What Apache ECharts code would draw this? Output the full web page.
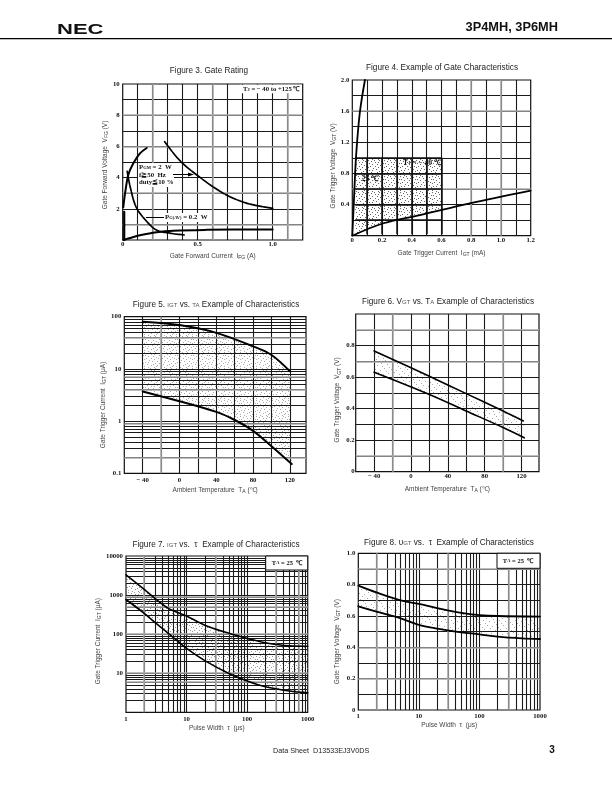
<!DOCTYPE html>
<html><head><meta charset="utf-8">
<style>html,body{margin:0;padding:0;background:#fff}#c{width:612px;height:792px}</style>
<script src="https://cdn.jsdelivr.net/npm/echarts@6/dist/echarts.min.js"></script>
</head><body><div id="c"></div>
<script>
// ---------- values ----------
const fig3Forward = [[0.004,2.1],[0.016,3],[0.038,4.2],[0.07,4.9],[0.115,5.55],[0.16,5.9]];
const fig3Vertical = [[0.01,0],[0.01,1.8]];
const fig3Lower = [[0.005,0],[0.05,0.13],[0.115,0.3],[0.225,0.5],[0.34,0.6],[0.56,0.65],[1.0,0.68]];
const fig3Pav = [[0.03,4.4],[0.05,3.4],[0.09,2.1],[0.15,1.3],[0.225,0.64],[0.32,0.43],[0.41,0.32]];
const fig3Pgm = [[0.28,6.3],[0.38,5.1],[0.49,4.2],[0.67,3.0],[0.83,2.35],[1.0,2.03]];

const fig4Left = [[0,0],[0.013,0.54],[0.025,1.01],[0.05,1.57],[0.085,2.0]];
const fig4Bottom = [[0,0],[0.21,0.16],[0.455,0.265],[0.79,0.415],[1.2,0.58]];
const fig4Stipple = [[0.02,1.0],[0.6,1.0],[0.6,0.34],[0.455,0.265],[0.21,0.16],[0.02,0.02]];

const fig5Upper = [[-40,80],[0,69],[40,49],[80,27],[100,18.5],[120,9]];
const fig5Lower = [[-40,3.7],[0,2.4],[40,1.5],[60,1.05],[80,0.65],[100,0.33],[122,0.15]];

const fig6Upper = [[-40,0.766],[20,0.605],[60,0.495],[100,0.385],[122,0.322]];
const fig6Lower = [[-40,0.631],[20,0.49],[60,0.385],[100,0.28],[123,0.215]];

const fig7Upper = [[1,3300],[2,1400],[3,820],[5,457],[10,290],[20,170],[50,105],[100,78],[200,60],[500,50],[1000,49]];
const fig7Lower = [[1,770],[2,340],[3,200],[5,105],[10,43],[20,21],[50,9.8],[100,6.3],[200,4.5],[500,3.5],[1000,3.15]];

const fig8Upper = [[1,0.794],[2,0.75],[5,0.70],[10,0.677],[20,0.65],[50,0.62],[100,0.606],[200,0.6],[1000,0.596]];
const fig8Lower = [[1,0.662],[2,0.628],[5,0.585],[10,0.543],[20,0.52],[50,0.496],[100,0.483],[200,0.468],[500,0.457],[1000,0.453]];

// tick labels
const fig3XTicks = [0,0.5,1.0], fig3XLabels = ['0','0.5','1.0'];
const fig3YTicks = [2,4,6,8,10], fig3YLabels = ['2','4','6','8','10'];
const fig4XTicks = [0,0.2,0.4,0.6,0.8,1.0,1.2], fig4XLabels = ['0','0.2','0.4','0.6','0.8','1.0','1.2'];
const fig4YTicks = [0.4,0.8,1.2,1.6,2.0], fig4YLabels = ['0.4','0.8','1.2','1.6','2.0'];
const tempTicks = [-40,0,40,80,120], tempLabels = ['\u2212 40','0','40','80','120'];
const fig5YTicks = [0.1,1,10,100], fig5YLabels = ['0.1','1','10','100'];
const fig6YTicks = [0,0.2,0.4,0.6,0.8], fig6YLabels = ['0','0.2','0.4','0.6','0.8'];
const widthTicks = [1,10,100,1000], widthLabels = ['1','10','100','1000'];
const fig7YTicks = [10,100,1000,10000], fig7YLabels = ['10','100','1000','10000'];
const fig8YTicks = [0,0.2,0.4,0.6,0.8,1.0], fig8YLabels = ['0','0.2','0.4','0.6','0.8','1.0'];

// grid line positions
const fig3XGrid = [0.1,0.2,0.3,0.4,0.5,0.6,0.7,0.8,0.9,1.0,1.1];
const fig3YGrid = [1,2,3,4,5,6,7,8,9];
const fig4XGrid = [0.1,0.2,0.3,0.4,0.5,0.6,0.7,0.8,0.9,1.0,1.1];
const fig4YGrid = [0.2,0.4,0.6,0.8,1.0,1.2,1.4,1.6,1.8];
const tempGrid = [-40,-20,0,20,40,60,80,100,120];
const fig5YGrid = [0.2,0.3,0.4,0.5,0.6,0.7,0.8,0.9,1,2,3,4,5,6,7,8,9,10,20,30,40,50,60,70,80,90];
const fig6YGrid = [0.1,0.2,0.3,0.4,0.5,0.6,0.7,0.8,0.9];
const widthGrid = [2,3,4,5,6,7,8,9,10,20,30,40,50,60,70,80,90,100,200,300,400,500,600,700,800,900];
const fig7YGrid = [2,3,4,5,6,7,8,9,10,20,30,40,50,60,70,80,90,100,200,300,400,500,600,700,800,900,1000,2000,3000,4000,5000,6000,7000,8000,9000];
const fig8YGrid = [0.1,0.2,0.3,0.4,0.5,0.6,0.7,0.8,0.9];

// scanned-in grey, thicker rules
const fig3XGrey = [0.2,0.6,1.1], fig3YGrey = [1,3,6,8];
const fig4XGrey = [0.8,1.0], fig4YGrey = [1.6,0.6];
const fig5XGrey = [-20], fig5YGrey = [0.2,0.9,4,7,40];
const fig6XGrey = [-20,100], fig6YGrey = [0.9,0.1,0.7];
const fig7XGrey = [2,30,300,700], fig7YGrey = [6,10,100,900,500];
const fig8XGrey = [2,30,300], fig8YGrey = [0.4,0.9,0.2];

// inset grid of figure 4
const fig4InsetX = [0.1,0.2,0.3,0.4,0.5,0.6];
const fig4InsetY = [0.2,0.4,0.6,0.8,1.0];

// dither cell for the stipple fills
const stippleCell = [
 '1000001000010000','0001000000000100','0000000100100000','0100000000000001',
 '0000100001000000','0000000000001000','0010000100000010','1000000000100000',
 '0000010000000000','0000000010000100','0100100000000000','0000000000010001',
 '0001000001000000','0000000100000100','1000000000001000','0000100000100000'];
const stippleCellFaint = [
 '1000000000000000','0000000100000000','0000000000001000','0010000000000000',
 '0000000000100000','0000100000000000','0000000000000001','0000000010000000',
 '0100000000000000','0000000000010000','0000001000000000','0000000000000100',
 '0001000000000000','0000000001000000','0000000000000010','0000010000000000'];

// ---------- layout ----------
const layouts = [
 {l:122.7,r:302.7,t:84,b:240},
 {l:352.3,r:530.7,t:80,b:235.7},
 {l:124.3,r:306,t:316.7,b:473.3},
 {l:355.7,r:539,t:314,b:471.7},
 {l:126,r:307.7,t:556,b:712.3},
 {l:358.3,r:540,t:553.3,b:710}
];
const SANS = 'Liberation Sans', SERIF = 'Liberation Serif';
const sansSub = {fontFamily:SANS,fontSize:5,verticalAlign:'bottom',color:'#333',padding:[3,0,0,0]};

function mapFmt(ticks, labels){return v=>{for(let i=0;i<ticks.length;i++){if(Math.abs(ticks[i]-v)<1e-6*Math.max(1,Math.abs(v)))return labels[i];}return '';};}
function axisBase(type,min,max,ticks,labels,name,gap,idx,margin,shift){
  return {type,min,max,gridIndex:idx,logBase:10,
    name,nameLocation:'middle',nameGap:gap,
    nameTextStyle:{fontFamily:SANS,fontSize:6.5,color:'#444',padding:shift?[0,shift*2,0,0]:0,rich:{s:sansSub,t:{fontFamily:SANS,fontSize:6.5,color:'#444'}}},
    axisLine:{show:false},axisTick:{show:false},splitLine:{show:false},minorTick:{show:false},minorSplitLine:{show:false},
    axisLabel:{show:true,showMinLabel:true,showMaxLabel:true,hideOverlap:false,customValues:ticks,formatter:mapFmt(ticks,labels),margin,
      fontFamily:SERIF,fontWeight:'bold',fontSize:6.8,color:'#111'}
  };
}
const xAxes = [
 axisBase('value',0,1.2,fig3XTicks,fig3XLabels,'{t|Gate Forward Current  I}{s|FG}{t| (A)}',12.5,0,1),
 axisBase('value',0,1.2,fig4XTicks,fig4XLabels,'{t|Gate Trigger Current  I}{s|GT}{t| (mA)}',13.5,1,1),
 axisBase('value',-60,137.5,tempTicks,tempLabels,'{t|Ambient Temperature  T}{s|A}{t| (\u2103)}',12.5,2,3),
 axisBase('value',-60,139,tempTicks,tempLabels,'{t|Ambient Temperature  T}{s|A}{t| (\u2103)}',13.5,3,1),
 axisBase('log',1,1000,widthTicks,widthLabels,'{t|Pulse Width  \u03C4  (\u03BCs)}',12,4,3),
 axisBase('log',1,1000,widthTicks,widthLabels,'{t|Pulse Width  \u03C4  (\u03BCs)}',12,5,3)
];
const yAxes = [
 axisBase('value',0,10,fig3YTicks,fig3YLabels,'{t|Gate Forward Voltage  V}{s|FG}{t| (V)}',10,0,3,3),
 axisBase('value',0,2.0,fig4YTicks,fig4YLabels,'{t|Gate Trigger Voltage  V}{s|GT}{t| (V)}',14,1,3,8),
 axisBase('log',0.1,100,fig5YTicks,fig5YLabels,'{t|Gate Trigger Current  I}{s|GT}{t| (\u03BCA)}',14,2,3,10),
 axisBase('value',0,1.0,fig6YTicks,fig6YLabels,'{t|Gate Trigger Voltage  V}{s|GT}{t| (V)}',14,3,1,7),
 axisBase('log',1,10000,fig7YTicks,fig7YLabels,'{t|Gate Trigger Current  I}{s|GT}{t| (\u03BCA)}',19,4,3,7),
 axisBase('value',0,1.0,fig8YTicks,fig8YLabels,'{t|Gate Trigger Voltage  V}{s|GT}{t| (V)}',17,5,3,10)
];
const grids = layouts.map(g=>({left:g.l,top:g.t,width:g.r-g.l,height:g.b-g.t,show:true,borderColor:'#111',borderWidth:1.2,backgroundColor:'rgba(0,0,0,0)'}));

const series = [];
function rules(idx,xs,ys,color,width,z,opacity){
  series.push({type:'line',xAxisIndex:idx,yAxisIndex:idx,data:[],silent:true,animation:false,z,
    markLine:{silent:true,symbol:'none',animation:false,label:{show:false},z,
      lineStyle:{color,width,type:'solid',opacity:opacity==null?1:opacity},
      data:xs.map(v=>({xAxis:v})).concat(ys.map(v=>({yAxis:v})))}});
}
function curve(idx,data,width,dash){
  series.push({type:'line',xAxisIndex:idx,yAxisIndex:idx,data,smooth:0.35,showSymbol:false,symbol:'none',silent:true,animation:false,z:6,
    clip:true,lineStyle:{color:'#000',width,type:dash||'solid',cap:'round'}});
}
function pattern(cell,color){
  const c=document.createElement('canvas');c.width=c.height=cell.length;const x=c.getContext('2d');x.fillStyle=color;
  cell.forEach((row,j)=>{[...row].forEach((b,i)=>{if(b==='1')x.fillRect(i,j,1,1);});});
  return c;
}
function stipple(idx,points,cell,color){
  series.push({type:'custom',xAxisIndex:idx,yAxisIndex:idx,silent:true,animation:false,z:1,data:[0],
    renderItem(params,api){
      return {type:'polygon',shape:{points:points.map(p=>api.coord(p))},
        style:{fill:{image:pattern(cell,color),repeat:'repeat'}}};
    }});
}
function between(a,b){return a.concat(b.slice().reverse());}

const BLK='#1a1a1a', GREY='#a8a8a8';
const figs=[
 [fig3XGrid,fig3YGrid,fig3XGrey,fig3YGrey],[fig4XGrid,fig4YGrid,fig4XGrey,fig4YGrey],
 [tempGrid,fig5YGrid,fig5XGrey,fig5YGrey],[tempGrid,fig6YGrid,fig6XGrey,fig6YGrey],
 [widthGrid,fig7YGrid,fig7XGrey,fig7YGrey],[widthGrid,fig8YGrid,fig8XGrey,fig8YGrey]
];
figs.forEach((f,i)=>{rules(i,f[0],f[1],BLK,1.1,2);rules(i,f[2],f[3],GREY,1.6,3);});

stipple(1,fig4Stipple,stippleCell,'#666');
stipple(2,between(fig5Upper,fig5Lower),stippleCell,'#aaa');
stipple(3,between(fig6Upper,fig6Lower),stippleCellFaint,'#aaa');
stipple(4,between(fig7Upper,fig7Lower),stippleCell,'#999');
stipple(5,between(fig8Upper,fig8Lower),stippleCellFaint,'#aaa');

// heavier inset rules of figure 4 (only inside its box)
const insetLines=[];
fig4InsetX.forEach(v=>insetLines.push([{coord:[v,0.02]},{coord:[v,1.0]}]));
fig4InsetY.forEach(v=>insetLines.push([{coord:[0.02,v]},{coord:[0.6,v]}]));
series.push({type:'line',xAxisIndex:1,yAxisIndex:1,data:[],silent:true,animation:false,z:5,
  markLine:{silent:true,symbol:'none',animation:false,label:{show:false},lineStyle:{color:'#111',width:1.5,type:'solid'},data:insetLines}});

curve(0,fig3Forward,2);curve(0,fig3Vertical,2.2);curve(0,fig3Lower,2);curve(0,fig3Pav,1.7,[6,1]);curve(0,fig3Pgm,1.7,[12,1.5]);
curve(1,fig4Left,1.8);curve(1,fig4Bottom,1.8);
curve(2,fig5Upper,2);curve(2,fig5Lower,2);
curve(3,fig6Upper,1.6);curve(3,fig6Lower,1.6);
curve(4,fig7Upper,1.6);curve(4,fig7Lower,1.6);
curve(5,fig8Upper,1.8);curve(5,fig8Lower,1.8);

// ---------- titles, header, notes ----------
function figTitle(x,y,text){
  return {left:x,top:y,textAlign:'center',textVerticalAlign:'middle',padding:0,text,
    textStyle:{fontFamily:SANS,fontSize:8.2,fontWeight:'normal',color:'#222',
      rich:{t:{fontFamily:SANS,fontSize:8.2,color:'#222'},s:{fontFamily:SANS,fontSize:6,color:'#555'}}}};
}
const titles=[
 figTitle(209,71,'{t|Figure 3. Gate Rating}'),
 figTitle(442,68,'{t|Figure 4. Example of Gate Characteristics}'),
 figTitle(216,305,'{t|Figure 5. }{s|IGT}{t| vs. }{s|TA}{t| Example of Characteristics}'),
 figTitle(448,302,'{t|Figure 6. V}{s|GT}{t| vs. T}{s|A}{t| Example of Characteristics}'),
 figTitle(216,545,'{t|Figure 7. }{s|IGT}{t| vs.  \u03C4  Example of Characteristics}'),
 figTitle(449,543,'{t|Figure 8. \u03C5}{s|GT}{t| vs.  \u03C4  Example of Characteristics}')
];
function note(x,y,text,size,align){
  return {type:'text',z:30,x,y,style:{text,fill:'#111',font:'bold '+(size||6.5)+'px "'+SERIF+'"',textAlign:align||'left',textVerticalAlign:'middle',
    rich:{n:{fontFamily:SERIF,fontWeight:'bold',fontSize:size||6.5,fill:'#111',color:'#111'},s:{fontFamily:SERIF,fontWeight:'bold',fontSize:4.5,color:'#111'}}}};
}
function box(x,y,w,h,line){return {type:'rect',z:20,shape:{x,y,width:w,height:h},style:{fill:'#fff',stroke:line||null,lineWidth:1}};}
function seg(x1,y1,x2,y2){return {type:'line',z:20,shape:{x1,y1,x2,y2},style:{stroke:'#000',lineWidth:1}};}
function head(x,y){return {type:'polygon',z:21,shape:{points:[[x,y],[x-6,y-2],[x-6,y+2]]},style:{fill:'#000'}};}
const graphic=[
 {type:'rect',z:10,shape:{x:0,y:38,width:612,height:1.2},style:{fill:'#000'}},
 {type:'text',z:10,x:57,y:29.5,scaleX:1.42,style:{text:'NEC',font:'bold 15.5px "'+SANS+'"',fill:'#111',textVerticalAlign:'middle'}},
 {type:'text',z:10,x:558,y:27.5,style:{text:'3P4MH, 3P6MH',font:'bold 12.8px "'+SANS+'"',fill:'#111',textAlign:'right',textVerticalAlign:'middle'}},
 {type:'text',z:10,x:273,y:751,style:{text:'Data Sheet  D13533EJ3V0DS',font:'7.2px "'+SANS+'"',fill:'#222',textVerticalAlign:'middle'}},
 {type:'text',z:10,x:552,y:750,style:{text:'3',font:'bold 10px "'+SANS+'"',fill:'#111',textAlign:'center',textVerticalAlign:'middle'}},
 // figure 3
 box(240,84.8,62,8.5),
 note(243,89.5,'{n|T}{s|J}{n| = \u2212 40 to +125 \u2103}',6.7),
 box(138,163,36,24),
 note(139,167.5,'{n|P}{s|GM}{n| = 2  W}',6.8),
 note(139,175,'{n|f\u226750  Hz}',6.8),
 note(139,182.5,'{n|duty\u226610 %}',6.8),
 seg(173,174.5,192,174.5), head(194,174.5),
 box(164,213,44,9),
 seg(146,217.5,164,217.5), note(165,217.5,'{n|P}{s|G(AV)}{n| = 0.2  W}',6.8),
 // figure 4
 note(403,163,'{n|T}{s|J}{n| = \u2212 40 \u2103}',7.5),
 note(362,179,'{n|25 \u2103}',7.5),
 // figure 7, 8
 box(265.7,556,42,14,'#111'),
 note(287,563,'{n|T}{s|A}{n| = 25  \u2103}',6.5,'center'),
 box(497,553.3,43,15,'#111'),
 note(518,561,'{n|T}{s|A}{n| = 25  \u2103}',6.5,'center')
];

const chart=echarts.init(document.getElementById('c'),null,{renderer:'canvas'});
chart.setOption({animation:false,backgroundColor:'#fff',title:titles,grid:grids,xAxis:xAxes,yAxis:yAxes,series,graphic:{elements:graphic}});
</script></body></html>
